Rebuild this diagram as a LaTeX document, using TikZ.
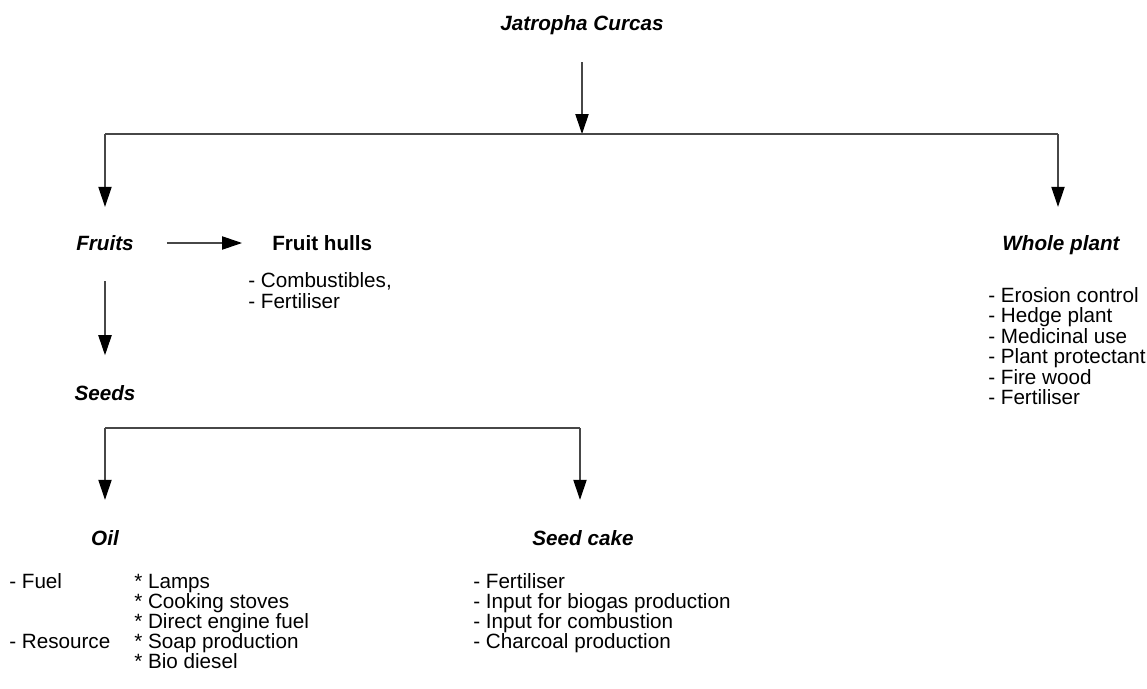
\documentclass[tikz,border=0pt]{standalone}
\usepackage{fontspec}
\setmainfont{Liberation Sans}
\usetikzlibrary{arrows.meta}
\begin{document}
\begin{tikzpicture}[x=0.75pt,y=-0.75pt,
  head/.style={font=\fontsize{15.5}{15.5}\selectfont\bfseries\itshape, inner sep=0pt,
    text height=14pt, text depth=3.5pt, anchor=base},
  headup/.style={font=\fontsize{15.5}{15.5}\selectfont\bfseries, inner sep=0pt,
    text height=14pt, text depth=3.5pt, anchor=base west},
  item/.style={font=\fontsize{15.5}{15.5}\selectfont, inner sep=0pt, anchor=base west},
  conn/.style={draw=black!72, line width=0.8pt},
  arr/.style={conn, -{Triangle[length=15pt,width=10pt,color=black]}}]
\useasboundingbox (0,0) rectangle (1147,689);

% headings
\node[head] (jat) at (582,30) {Jatropha Curcas};
\node[head] (fruits) at (105,250) {Fruits};
\node[headup] (hulls) at (272,250) {Fruit hulls};
\node[head] (whole) at (1061,250) {Whole plant};
\node[head] (seeds) at (105,400) {Seeds};
\node[head] (oil) at (105,545.5) {Oil};
\node[head] (cake) at (583,545.5) {Seed cake};

% junctions
\coordinate (j1) at (582,134);
\coordinate (jL) at (105,134);
\coordinate (jR) at (1058,134);
\coordinate (s1) at (105,428);
\coordinate (s2) at (580,428);

% connectors
\draw[arr, shorten <=20.5pt] (jat.south) -- (j1);
\draw[conn] (jL) -- (jR);
\draw[arr, shorten >=18.2pt] (jL) -- (jL |- fruits.north);
\draw[arr, shorten >=18.2pt] (jR) -- (jR |- whole.north);
\draw[arr, shorten <=24.75pt, shorten >=22.5pt] (fruits.east) -- (hulls.west);
\draw[arr, shorten <=19.7pt, shorten >=19.4pt] (fruits.south) -- (seeds.north);
\draw[conn] (s1) -- (s2);
\draw[arr, shorten >=20.1pt] (s1) -- (s1 |- oil.north);
\draw[arr, shorten >=20.1pt] (s2) -- (s2 |- cake.north);

% fruit hulls list
\node[item] (h1) at (248,287) {- Combustibles,};
\node[item] (h2) at (248,308) {- Fertiliser};

% whole plant list
\node[item] (w1) at (988,302) {- Erosion control};
\node[item] (w2) at (988,322.5) {- Hedge plant};
\node[item] (w3) at (988,343) {- Medicinal use};
\node[item] (w4) at (988,363.5) {- Plant protectant};
\node[item] (w5) at (988,384) {- Fire wood};
\node[item] (w6) at (988,404.5) {- Fertiliser};

% oil list
\node[item] (o1) at (9,588) {- Fuel};
\node[item] (o2) at (9,648) {- Resource};
\node[item] (a1) at (134,588) {* Lamps};
\node[item] (a2) at (134,608) {* Cooking stoves};
\node[item] (a3) at (134,628) {* Direct engine fuel};
\node[item] (a4) at (134,648) {* Soap production};
\node[item] (a5) at (134,668) {* Bio diesel};

% seed cake list
\node[item] (c1) at (473,588) {- Fertiliser};
\node[item] (c2) at (473,608) {- Input for biogas production};
\node[item] (c3) at (473,628) {- Input for combustion};
\node[item] (c4) at (473,648) {- Charcoal production};
\end{tikzpicture}
\end{document}
